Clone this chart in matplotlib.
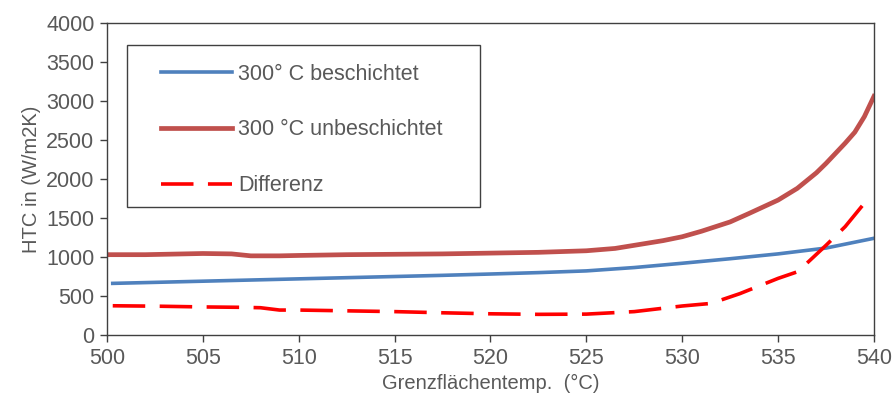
import numpy as np
import matplotlib.pyplot as plt
from matplotlib.patches import Rectangle

plt.rcParams['font.family'] = ['Liberation Sans', 'DejaVu Sans']

# coated (300° C beschichtet)
temp_coated = [500.3, 502.5, 505, 507.5, 510, 512.5, 515, 517.5, 520, 522.5,
               525, 527.5, 530, 532.5, 535, 537.5, 540]
htc_coated = [662, 675, 690, 705, 720, 735, 750, 765, 782, 800,
              822, 865, 920, 978, 1040, 1115, 1240]

# uncoated (300 °C unbeschichtet)
temp_uncoated = [500, 502, 504, 505, 506.5, 507.5, 509, 510, 512.5, 515, 517.5,
                 520, 522.5, 525, 526.5, 527.5, 529, 530, 531, 532.5, 533.5,
                 535, 536, 537, 537.5, 538, 538.5, 539, 539.5, 540]
htc_uncoated = [1030, 1030, 1040, 1045, 1040, 1015, 1015, 1020, 1030, 1035, 1040,
                1050, 1060, 1080, 1110, 1150, 1210, 1260, 1330, 1450, 1560,
                1730, 1880, 2080, 2200, 2330, 2460, 2600, 2800, 3060]

# Differenz
temp_diff = [500.3, 502.5, 505, 507, 508, 509, 510, 512.5, 515, 517.5, 520,
             522.5, 525, 527.5, 530, 531.5, 533, 535, 536, 536.5, 537.5,
             538.5, 539.5, 539.9]
htc_diff = [375, 370, 360, 355, 350, 320, 320, 310, 300, 285, 272,
            265, 268, 300, 372, 405, 530, 726, 810, 920, 1150,
            1390, 1690, 1780]

text_col = '#595959'
axis_col = '#404040'

fig = plt.figure(figsize=(8.96, 4.05), dpi=100)
ax = fig.add_axes([0.1194, 0.1728, 0.856, 0.7704])

ax.plot(temp_coated, htc_coated, color='#4F81BD', lw=2.6,
        label='300° C beschichtet')
ax.plot(temp_uncoated, htc_uncoated, color='#C0504D', lw=3.4,
        label='300 °C unbeschichtet')
ax.plot(temp_diff, htc_diff, color='#FF0000', lw=2.6, dashes=(9, 4),
        label='Differenz')

ax.set_xlim(500, 540)
ax.set_ylim(0, 4000)
ax.set_xticks(np.arange(500, 541, 5))
ax.set_yticks(np.arange(0, 4001, 500))

for s in ax.spines.values():
    s.set_color(axis_col)
    s.set_linewidth(1.0)
ax.tick_params(direction='out', length=5, width=1, color=axis_col,
               labelcolor=text_col, labelsize=15.5, pad=4)

ax.set_xlabel('Grenzflächentemp.  (°C)', fontsize=14.5, color=text_col, labelpad=4)
ax.set_ylabel('HTC in (W/m2K)', fontsize=14.5, color=text_col, labelpad=4)

# legend frame drawn separately so the padding can match the original box
ax.add_patch(Rectangle((0.0261, 0.4103), 0.4602, 0.5192, transform=ax.transAxes,
                       fill=True, facecolor='white', edgecolor=axis_col,
                       lw=1.0, zorder=4))
leg = ax.legend(loc='upper left', bbox_to_anchor=(0.0704, 0.870),
                borderaxespad=0, borderpad=0, frameon=False, fontsize=15.5,
                handlelength=3.3, handletextpad=0.3, labelspacing=1.62)
leg.set_zorder(5)
for t in leg.get_texts():
    t.set_color(text_col)

fig.savefig('out.png', dpi=100)
